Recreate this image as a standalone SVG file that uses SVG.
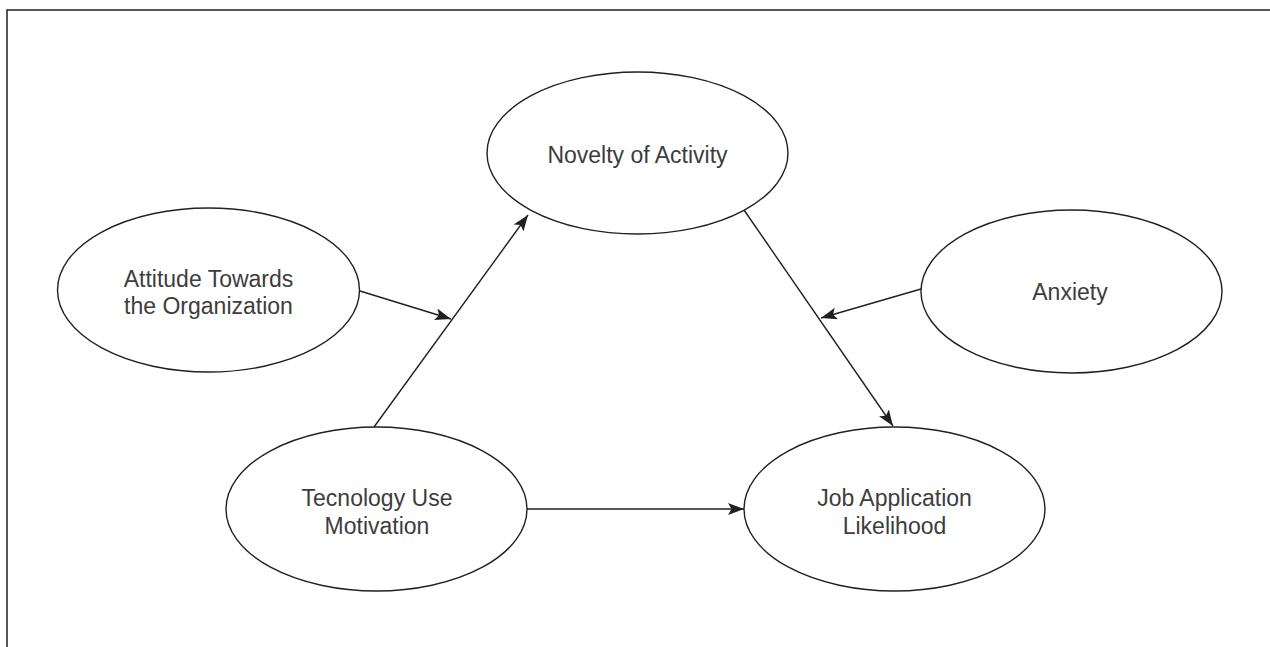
<svg xmlns="http://www.w3.org/2000/svg" width="1270" height="647" viewBox="0 0 1270 647">
<style>
.node ellipse{fill:#fff;stroke:#231f20;stroke-width:1.4}
.node text{font-family:"Liberation Sans",Arial,sans-serif;font-size:23px;fill:#3d3d3d;text-anchor:middle}
.edge{stroke:#231f20;stroke-width:1.4;fill:none;marker-end:url(#arr)}
</style>
<defs>
<marker id="arr" viewBox="0 0 16 12" markerWidth="16" markerHeight="12" refX="16" refY="6" orient="auto" markerUnits="userSpaceOnUse">
<path d="M0,0 L16,6 L0,12 L3.5,6 Z" fill="#231f20"/>
</marker>
</defs>
<rect width="1270" height="647" fill="#fff"/>
<path d="M7,647 V10 H1270" fill="none" stroke="#231f20" stroke-width="1.5"/>
<g id="connectors">
<line class="edge" x1="374" y1="427" x2="528" y2="215"/>
<line class="edge" x1="360" y1="291" x2="451" y2="319"/>
<line class="edge" x1="744" y1="210" x2="893" y2="426"/>
<line class="edge" x1="921" y1="289" x2="821" y2="318"/>
<line class="edge" x1="527" y1="509" x2="744" y2="509"/>
</g>
<g id="novelty" class="node">
<ellipse cx="637.5" cy="153" rx="150.5" ry="81"/>
<text x="637.5" y="163">Novelty of Activity</text>
</g>
<g id="attitude" class="node">
<ellipse cx="208.5" cy="290" rx="151" ry="82"/>
<text x="208.5" y="287">Attitude Towards</text>
<text x="208.5" y="314">the Organization</text>
</g>
<g id="anxiety" class="node">
<ellipse cx="1071.5" cy="291.5" rx="150.5" ry="81.5"/>
<text x="1070" y="300">Anxiety</text>
</g>
<g id="tecnology" class="node">
<ellipse cx="376.5" cy="509" rx="150.5" ry="82"/>
<text x="377" y="506">Tecnology Use</text>
<text x="377" y="534">Motivation</text>
</g>
<g id="job" class="node">
<ellipse cx="894.5" cy="509" rx="150.5" ry="82"/>
<text x="894.5" y="506">Job Application</text>
<text x="894.5" y="534">Likelihood</text>
</g>
</svg>
